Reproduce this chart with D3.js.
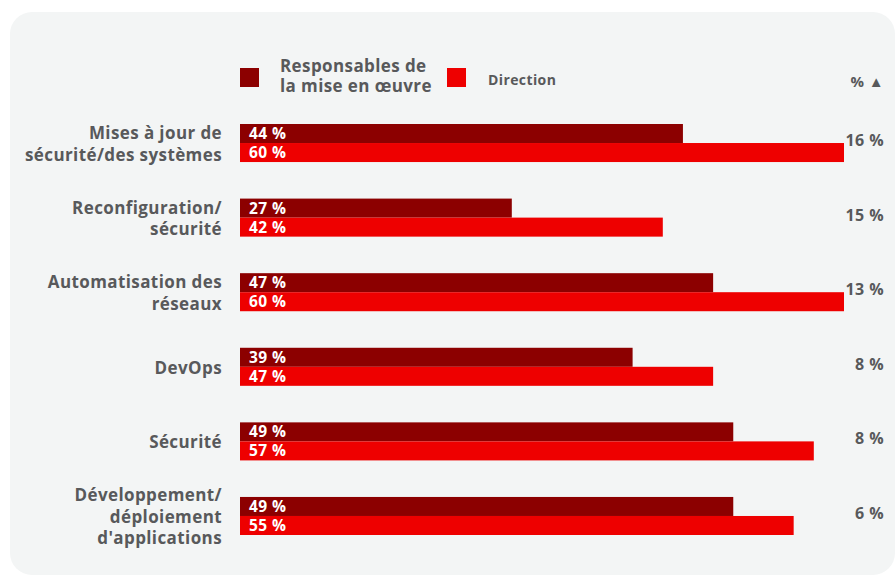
<!DOCTYPE html>
<html>
<head>
<meta charset="utf-8">
<script src="https://cdn.jsdelivr.net/npm/d3@7"></script>
<style>
  body { margin: 0; background: #fff; }
  svg text { font-family: "Open Sans", sans-serif; font-weight: 700; letter-spacing: 0.4px; }
</style>
</head>
<body>
<div id="chart"></div>
<script>
// Chart data
const categories = [
  ["Mises à jour de", "sécurité/des systèmes"],
  ["Reconfiguration/", "sécurité"],
  ["Automatisation des", "réseaux"],
  ["DevOps"],
  ["Sécurité"],
  ["Développement/", "déploiement", "d'applications"]
];
const implementers = [44, 27, 47, 39, 49, 49];
const direction = [60, 42, 60, 47, 57, 55];
const gaps = [16, 15, 13, 8, 8, 6];
const legendLines = ["Responsables de", "la mise en œuvre"];
const seriesNames = ["Responsables de la mise en œuvre", "Direction"];
const colors = ["#8c0000", "#ee0000"];

const width = 895, height = 576;
const textColor = "#58595b";

const svg = d3.select("#chart")
  .append("svg")
  .attr("width", width)
  .attr("height", height);

// card background
svg.append("rect")
  .attr("x", 10)
  .attr("y", 12)
  .attr("width", 885)
  .attr("height", 563)
  .attr("rx", 22)
  .attr("fill", "#f3f5f5");

const ids = categories.map((d, i) => i);

// Scales
const xScale = d3.scaleLinear().domain([0, 60]).range([240, 844]);
const yScale = d3.scaleBand().domain(ids).range([124, 535]).paddingInner(0.49);
const subScale = d3.scaleBand().domain([0, 1]).range([0, yScale.bandwidth()]);

const rows = ids.map((i) => ({
  i: i,
  label: categories[i],
  values: [implementers[i], direction[i]],
  gap: gaps[i]
}));

const groups = svg.selectAll(".group")
  .data(rows)
  .enter()
  .append("g")
  .attr("class", "group")
  .attr("transform", (d) => `translate(0,${yScale(d.i)})`);

// bars
groups.selectAll("rect")
  .data((d) => d.values.map((v, s) => ({ v: v, s: s })))
  .enter()
  .append("rect")
  .attr("x", xScale(0))
  .attr("y", (d) => subScale(d.s))
  .attr("width", (d) => xScale(d.v) - xScale(0))
  .attr("height", subScale.bandwidth())
  .attr("fill", (d) => colors[d.s]);

// value labels inside bars
groups.selectAll(".val")
  .data((d) => d.values.map((v, s) => ({ v: v, s: s })))
  .enter()
  .append("text")
  .attr("class", "val")
  .attr("x", xScale(0) + 9)
  .attr("y", (d) => subScale(d.s) + subScale.bandwidth() - 4)
  .attr("fill", "#fff")
  .style("font-size", "15.5px")
  .text((d) => d.v + " %");

// category labels
const lineH = 21.5;
groups.append("text")
  .attr("text-anchor", "end")
  .attr("fill", textColor)
  .style("font-size", "17px")
  .each(function (d) {
    const n = d.label.length;
    const mid = yScale.bandwidth() / 2 + 1;
    d3.select(this).selectAll("tspan")
      .data(d.label)
      .enter()
      .append("tspan")
      .attr("x", 222)
      .attr("y", (t, k) => mid + (k - (n - 1) / 2) * lineH)
      .attr("dy", "0.35em")
      .text((t) => t);
  });

// gap values on the right
groups.append("text")
  .attr("x", 884)
  .attr("y", yScale.bandwidth() / 2 + 3)
  .attr("text-anchor", "end")
  .attr("fill", textColor)
  .style("font-size", "16px")
  .text((d) => d.gap + " %");

// Legend
const legend = svg.append("g");
legend.append("rect")
  .attr("x", 240).attr("y", 68)
  .attr("width", 19).attr("height", 19)
  .attr("fill", colors[0]);
legend.append("text")
  .attr("fill", textColor)
  .style("font-size", "17px")
  .selectAll("tspan")
  .data(legendLines)
  .enter()
  .append("tspan")
  .attr("x", 280)
  .attr("y", (t, k) => 66 + k * 20)
  .attr("dy", "0.35em")
  .text((t) => t);

legend.append("rect")
  .attr("x", 447).attr("y", 68)
  .attr("width", 19).attr("height", 19)
  .attr("fill", colors[1]);
legend.append("text")
  .attr("x", 488)
  .attr("y", 80)
  .attr("dy", "0.35em")
  .attr("fill", textColor)
  .style("font-size", "14px")
  .text(seriesNames[1]);

legend.append("text")
  .attr("x", 884)
  .attr("y", 82)
  .attr("dy", "0.35em")
  .attr("text-anchor", "end")
  .attr("fill", textColor)
  .style("font-size", "15px")
  .text("% ▲");
</script>
</body>
</html>
